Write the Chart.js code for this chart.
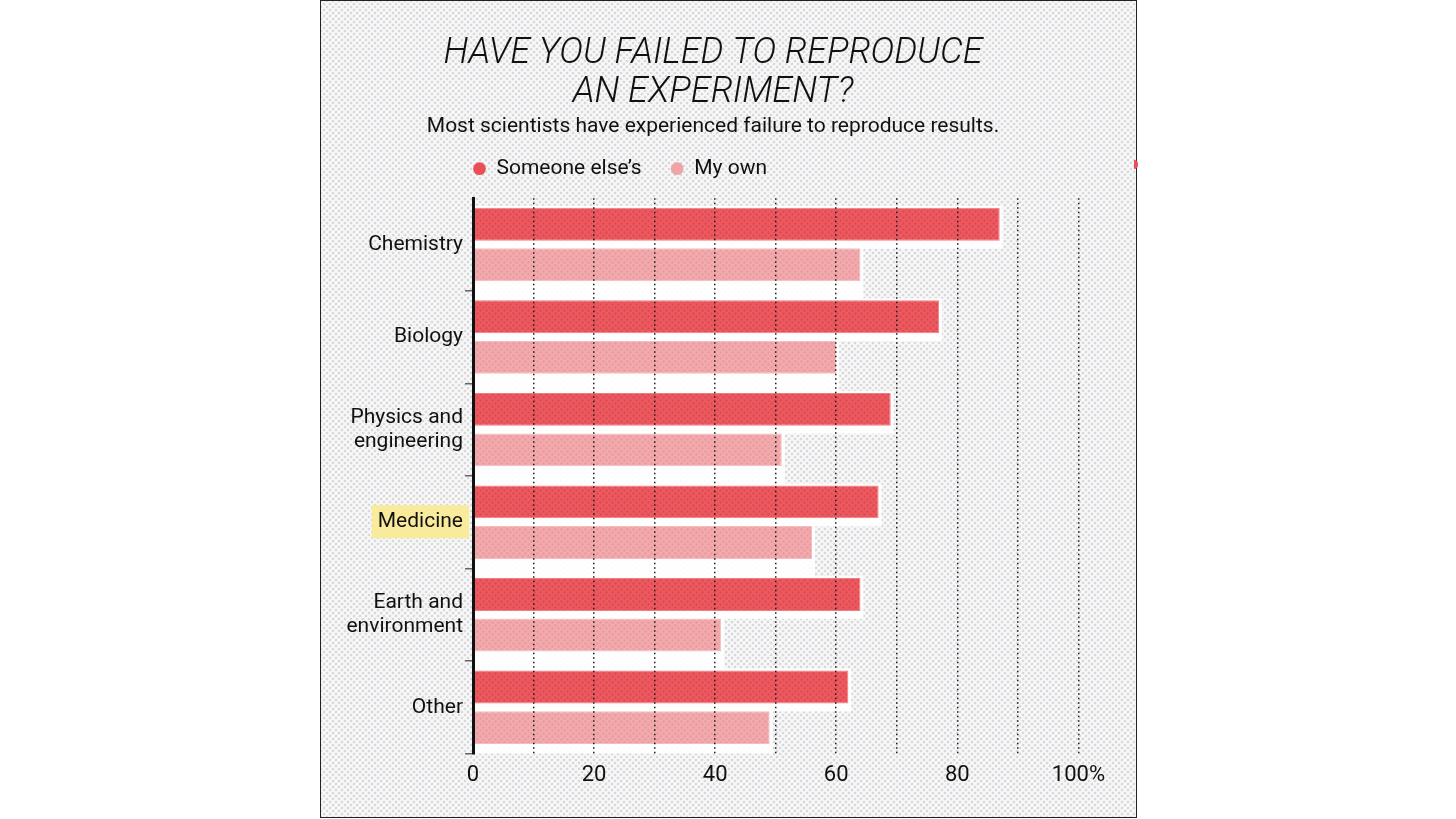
<!DOCTYPE html>
<html>
<head>
<meta charset="utf-8">
<script src="https://cdn.jsdelivr.net/npm/chart.js@4.4.1/dist/chart.umd.min.js"></script>
<style>
  html, body { margin: 0; padding: 0; background: #fff; }
  body { width: 1456px; height: 819px; position: relative; overflow: hidden; }
  #panel {
    position: absolute; left: 320px; top: 0; width: 815px; height: 816px;
    border: 1px solid #222;
    background-color: #f9f9f9;
    background-image: radial-gradient(circle, #d8d9dc 1.2px, transparent 1.7px),
                      radial-gradient(circle, #d8d9dc 1.2px, transparent 1.7px);
    background-size: 6px 6px;
    background-position: 0 0, 3px 3px;
  }
  #edge-dot {
    position: absolute; left: 1134px; top: 160px; width: 4px; height: 9px;
    background: #e94f55; border-radius: 0 5px 5px 0;
  }
  #chart { position: absolute; left: 320px; top: 0; }
</style>
</head>
<body>
<div id="panel"></div>
<div id="edge-dot"></div>
<canvas id="chart" width="794" height="798"></canvas>
<script>
// data
var fields = ['Chemistry', 'Biology', ['Physics and', 'engineering'], 'Medicine', ['Earth and', 'environment'], 'Other'];
var someoneElse = [87, 77, 69, 67, 64, 62];
var myOwn = [64, 60, 51, 56, 41, 49];
var seriesNames = ['Someone else\u2019s', 'My own'];
var xTicks = [0, 20, 40, 60, 80, 100];

var titleLines = ['HAVE YOU FAILED TO REPRODUCE', 'AN EXPERIMENT?'];
var subtitleText = 'Most scientists have experienced failure to reproduce results.';

var highlightIndex = 3; // Medicine label has the yellow marker
var legendLift = 9;     // extra gap between legend and bars

// dotted print texture for the bars
function makeDots(base, dot) {
    var c = document.createElement('canvas');
    c.width = 6;
    c.height = 6;
    var g = c.getContext('2d');
    g.fillStyle = base;
    g.fillRect(0, 0, 6, 6);
    g.fillStyle = dot;
    g.beginPath();
    g.arc(1.5, 1.5, 1.2, 0, Math.PI * 2);
    g.arc(4.5, 4.5, 1.2, 0, Math.PI * 2);
    g.fill();
    return g.createPattern(c, 'repeat');
}

var redSolid = '#e94f55';
var pinkSolid = '#efa5a8';
var redFill = makeDots('#ec5a60', '#dc4a51');
var pinkFill = makeDots('#f3aaad', '#e79a9e');

// white halo behind each bar
var haloPlugin = {
    id: 'halo',
    beforeDatasetsDraw: function (chart) {
        var ctx = chart.ctx;
        var area = chart.chartArea;
        ctx.save();
        ctx.beginPath();
        ctx.rect(area.left, area.top, area.right - area.left, area.bottom - area.top);
        ctx.clip();
        ctx.fillStyle = 'rgba(255,255,255,0.9)';
        chart.data.datasets.forEach(function (ds, i) {
            var below = i === 0 ? 8 : 18;
            chart.getDatasetMeta(i).data.forEach(function (bar) {
                var h = bar.height;
                ctx.fillRect(bar.base, bar.y - h / 2 - 2, bar.x - bar.base + 3, h + 2 + below);
            });
        });
        ctx.restore();
    }
};

// start the legend right at the value axis, a little above the bars
var legendShift = {
    id: 'legendShift',
    afterLayout: function (chart) {
        var lg = chart.legend;
        var dx = chart.chartArea.left - (lg.left + lg.options.labels.padding);
        lg.left += dx;
        lg.right += dx;
        lg.top -= legendLift;
        lg.bottom -= legendLift;
    }
};

var ctx = document.getElementById('chart').getContext('2d');

var chart = new Chart(ctx, {
    type: 'bar',
    data: {
        labels: fields,
        datasets: [{
            label: seriesNames[0],
            data: someoneElse,
            backgroundColor: redFill,
            borderColor: '#f27c81',
            borderWidth: 1,
            borderSkipped: false,
            categoryPercentage: 0.876,
            barPercentage: 0.81
        }, {
            label: seriesNames[1],
            data: myOwn,
            backgroundColor: pinkFill,
            borderColor: '#f7bcbe',
            borderWidth: 1,
            borderSkipped: false,
            categoryPercentage: 0.876,
            barPercentage: 0.81
        }]
    },
    options: {
        indexAxis: 'y',
        responsive: false,
        animation: false,
        layout: {
            padding: { left: -8, right: 0, top: 0, bottom: 0 }
        },
        scales: {
            x: {
                min: 0,
                max: 100,
                border: { display: false, dash: [1.5, 3] },
                grid: {
                    z: 1,
                    drawTicks: false,
                    lineWidth: 1.5,
                    color: function (c) {
                        return c.tick && c.tick.value === 0 ? 'rgba(0,0,0,0)' : '#1a1a1a';
                    }
                },
                ticks: {
                    stepSize: 10,
                    autoSkip: false,
                    maxRotation: 0,
                    padding: 9,
                    color: '#111',
                    font: { family: 'Roboto', size: 22 },
                    callback: function (value) {
                        if (xTicks.indexOf(value) < 0) return '';
                        return value === 100 ? '100%' : value;
                    }
                }
            },
            y: {
                afterFit: function (scale) {
                    scale.width = 161;
                },
                border: { display: true, color: '#111', width: 3, z: 2 },
                grid: {
                    drawOnChartArea: false,
                    drawTicks: true,
                    tickLength: 8,
                    lineWidth: 1.5,
                    color: function (c) {
                        return (c.index === 0 || c.index === fields.length) ? 'rgba(0,0,0,0)' : '#666';
                    }
                },
                ticks: {
                    padding: 2,
                    color: '#111',
                    font: { family: 'Roboto', size: 21, lineHeight: 1.15 },
                    showLabelBackdrop: function (c) {
                        return c.index === highlightIndex;
                    },
                    backdropColor: '#f9eb9c',
                    backdropPadding: { top: 5, bottom: 4, left: 6, right: 6 }
                }
            }
        },
        plugins: {
            title: {
                display: true,
                text: titleLines,
                color: '#111',
                font: { family: 'Roboto', size: 36, style: 'italic', weight: 300, lineHeight: 39 / 36 },
                padding: { top: 34, bottom: 0 }
            },
            subtitle: {
                display: true,
                text: subtitleText,
                color: '#111',
                font: { family: 'Roboto', size: 21, lineHeight: 1.2 },
                padding: { top: 2, bottom: -1 }
            },
            legend: {
                position: 'top',
                align: 'start',
                fullSize: false,
                labels: {
                    usePointStyle: true,
                    pointStyle: 'circle',
                    boxWidth: 13,
                    boxHeight: 9,
                    padding: 29,
                    color: '#111',
                    font: { family: 'Roboto', size: 21 },
                    generateLabels: function (chart) {
                        var items = Chart.defaults.plugins.legend.labels.generateLabels(chart);
                        var solids = [redSolid, pinkSolid];
                        items.forEach(function (it, i) {
                            it.fillStyle = solids[i];
                            it.strokeStyle = solids[i];
                            it.lineWidth = 0;
                        });
                        return items;
                    }
                }
            },
            tooltip: { enabled: false }
        }
    },
    plugins: [haloPlugin, legendShift]
});
</script>
</body>
</html>
